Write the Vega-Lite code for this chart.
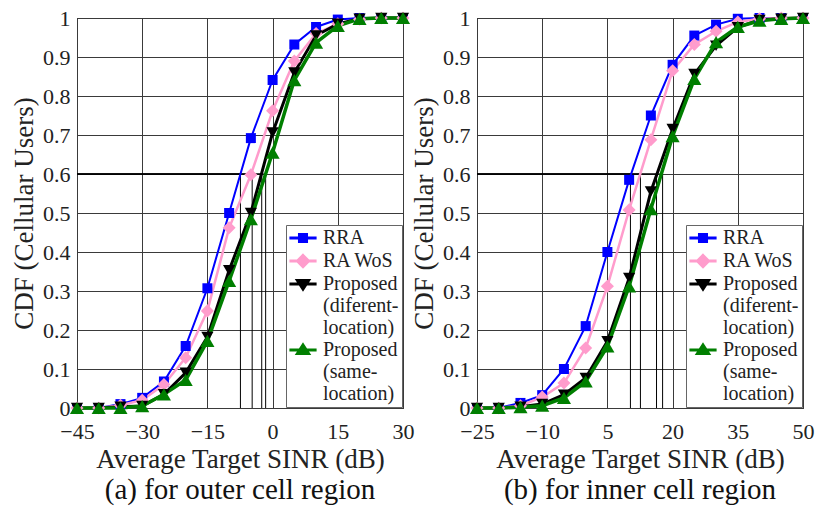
{
  "$schema": "https://vega.github.io/schema/vega-lite/v6.json",
  "background": "white",
  "padding": {"left": 10, "top": 6, "right": 4, "bottom": 0},
  "config": {
    "font": "Liberation Serif, Times New Roman, serif",
    "view": {"stroke": "black", "strokeWidth": 1},
    "axis": {
      "labelFont": "Liberation Serif, Times New Roman, serif",
      "labelFontSize": 22,
      "labelColor": "#222222",
      "labelFlush": false,
      "labelOverlap": false,
      "titleFont": "Liberation Serif, Times New Roman, serif",
      "titleFontSize": 27,
      "titleFontWeight": "normal",
      "titleColor": "#222222",
      "grid": true,
      "gridColor": "#3a3a3a",
      "gridWidth": 1,
      "domain": false,
      "ticks": false
    },
    "axisX": {"labelPadding": 13, "titlePadding": 4},
    "axisY": {"labelPadding": 7, "titlePadding": 4},
    "legend": {
      "orient": "bottom-right",
      "offset": 1,
      "padding": 3,
      "strokeColor": "#666666",
      "fillColor": "white",
      "labelFont": "Liberation Serif, Times New Roman, serif",
      "labelFontSize": 20,
      "labelColor": "#222222",
      "labelOffset": 10,
      "labelLimit": 300,
      "rowPadding": 1,
      "symbolSize": 256,
      "symbolOffset": 4,
      "symbolStrokeWidth": 3,
      "symbolOpacity": 1
    },
    "title": {"font": "Liberation Serif, Times New Roman, serif", "fontSize": 29, "fontWeight": "normal", "color": "#111111"}
  },
  "datasets": {
    "outer": [
      {"series": "RRA", "sinr": -45, "cdf": 0},
      {"series": "RRA", "sinr": -40, "cdf": 0},
      {"series": "RRA", "sinr": -35, "cdf": 0.01},
      {"series": "RRA", "sinr": -30, "cdf": 0.026},
      {"series": "RRA", "sinr": -25, "cdf": 0.068},
      {"series": "RRA", "sinr": -20, "cdf": 0.159},
      {"series": "RRA", "sinr": -15, "cdf": 0.307},
      {"series": "RRA", "sinr": -10, "cdf": 0.5},
      {"series": "RRA", "sinr": -5, "cdf": 0.692},
      {"series": "RRA", "sinr": 0, "cdf": 0.841},
      {"series": "RRA", "sinr": 5, "cdf": 0.932},
      {"series": "RRA", "sinr": 10, "cdf": 0.977},
      {"series": "RRA", "sinr": 15, "cdf": 0.996},
      {"series": "RRA", "sinr": 20, "cdf": 1},
      {"series": "RRA", "sinr": 25, "cdf": 1},
      {"series": "RRA", "sinr": 30, "cdf": 1},
      {"series": "RA WoS", "sinr": -45, "cdf": 0},
      {"series": "RA WoS", "sinr": -40, "cdf": 0},
      {"series": "RA WoS", "sinr": -35, "cdf": 0.007},
      {"series": "RA WoS", "sinr": -30, "cdf": 0.02},
      {"series": "RA WoS", "sinr": -25, "cdf": 0.06},
      {"series": "RA WoS", "sinr": -20, "cdf": 0.129},
      {"series": "RA WoS", "sinr": -15, "cdf": 0.249},
      {"series": "RA WoS", "sinr": -10, "cdf": 0.462},
      {"series": "RA WoS", "sinr": -5, "cdf": 0.598},
      {"series": "RA WoS", "sinr": 0, "cdf": 0.762},
      {"series": "RA WoS", "sinr": 5, "cdf": 0.89},
      {"series": "RA WoS", "sinr": 10, "cdf": 0.96},
      {"series": "RA WoS", "sinr": 15, "cdf": 0.985},
      {"series": "RA WoS", "sinr": 20, "cdf": 0.997},
      {"series": "RA WoS", "sinr": 25, "cdf": 1},
      {"series": "RA WoS", "sinr": 30, "cdf": 1},
      {"series": "Proposed (diferent-location)", "sinr": -45, "cdf": 0},
      {"series": "Proposed (diferent-location)", "sinr": -40, "cdf": 0},
      {"series": "Proposed (diferent-location)", "sinr": -35, "cdf": 0.003},
      {"series": "Proposed (diferent-location)", "sinr": -30, "cdf": 0.005},
      {"series": "Proposed (diferent-location)", "sinr": -25, "cdf": 0.035},
      {"series": "Proposed (diferent-location)", "sinr": -20, "cdf": 0.09},
      {"series": "Proposed (diferent-location)", "sinr": -15, "cdf": 0.182},
      {"series": "Proposed (diferent-location)", "sinr": -10, "cdf": 0.353},
      {"series": "Proposed (diferent-location)", "sinr": -5, "cdf": 0.5},
      {"series": "Proposed (diferent-location)", "sinr": 0, "cdf": 0.706},
      {"series": "Proposed (diferent-location)", "sinr": 5, "cdf": 0.86},
      {"series": "Proposed (diferent-location)", "sinr": 10, "cdf": 0.955},
      {"series": "Proposed (diferent-location)", "sinr": 15, "cdf": 0.985},
      {"series": "Proposed (diferent-location)", "sinr": 20, "cdf": 0.998},
      {"series": "Proposed (diferent-location)", "sinr": 25, "cdf": 1},
      {"series": "Proposed (diferent-location)", "sinr": 30, "cdf": 1},
      {"series": "Proposed (same-location)", "sinr": -45, "cdf": 0},
      {"series": "Proposed (same-location)", "sinr": -40, "cdf": 0},
      {"series": "Proposed (same-location)", "sinr": -35, "cdf": 0},
      {"series": "Proposed (same-location)", "sinr": -30, "cdf": 0.005},
      {"series": "Proposed (same-location)", "sinr": -25, "cdf": 0.035},
      {"series": "Proposed (same-location)", "sinr": -20, "cdf": 0.072},
      {"series": "Proposed (same-location)", "sinr": -15, "cdf": 0.172},
      {"series": "Proposed (same-location)", "sinr": -10, "cdf": 0.326},
      {"series": "Proposed (same-location)", "sinr": -5, "cdf": 0.484},
      {"series": "Proposed (same-location)", "sinr": 0, "cdf": 0.655},
      {"series": "Proposed (same-location)", "sinr": 5, "cdf": 0.841},
      {"series": "Proposed (same-location)", "sinr": 10, "cdf": 0.937},
      {"series": "Proposed (same-location)", "sinr": 15, "cdf": 0.98},
      {"series": "Proposed (same-location)", "sinr": 20, "cdf": 0.998},
      {"series": "Proposed (same-location)", "sinr": 25, "cdf": 1},
      {"series": "Proposed (same-location)", "sinr": 30, "cdf": 1}
    ],
    "inner": [
      {"series": "RRA", "sinr": -25, "cdf": 0},
      {"series": "RRA", "sinr": -20, "cdf": 0},
      {"series": "RRA", "sinr": -15, "cdf": 0.013},
      {"series": "RRA", "sinr": -10, "cdf": 0.033},
      {"series": "RRA", "sinr": -5, "cdf": 0.1},
      {"series": "RRA", "sinr": 0, "cdf": 0.21},
      {"series": "RRA", "sinr": 5, "cdf": 0.4},
      {"series": "RRA", "sinr": 10, "cdf": 0.585},
      {"series": "RRA", "sinr": 15, "cdf": 0.75},
      {"series": "RRA", "sinr": 20, "cdf": 0.88},
      {"series": "RRA", "sinr": 25, "cdf": 0.955},
      {"series": "RRA", "sinr": 30, "cdf": 0.983},
      {"series": "RRA", "sinr": 35, "cdf": 0.998},
      {"series": "RRA", "sinr": 40, "cdf": 1},
      {"series": "RRA", "sinr": 45, "cdf": 1},
      {"series": "RRA", "sinr": 50, "cdf": 1},
      {"series": "RA WoS", "sinr": -25, "cdf": 0},
      {"series": "RA WoS", "sinr": -20, "cdf": 0},
      {"series": "RA WoS", "sinr": -15, "cdf": 0.006},
      {"series": "RA WoS", "sinr": -10, "cdf": 0.028},
      {"series": "RA WoS", "sinr": -5, "cdf": 0.064},
      {"series": "RA WoS", "sinr": 0, "cdf": 0.154},
      {"series": "RA WoS", "sinr": 5, "cdf": 0.312},
      {"series": "RA WoS", "sinr": 10, "cdf": 0.508},
      {"series": "RA WoS", "sinr": 15, "cdf": 0.688},
      {"series": "RA WoS", "sinr": 20, "cdf": 0.865},
      {"series": "RA WoS", "sinr": 25, "cdf": 0.932},
      {"series": "RA WoS", "sinr": 30, "cdf": 0.966},
      {"series": "RA WoS", "sinr": 35, "cdf": 0.99},
      {"series": "RA WoS", "sinr": 40, "cdf": 0.998},
      {"series": "RA WoS", "sinr": 45, "cdf": 1},
      {"series": "RA WoS", "sinr": 50, "cdf": 1},
      {"series": "Proposed (diferent-location)", "sinr": -25, "cdf": 0},
      {"series": "Proposed (diferent-location)", "sinr": -20, "cdf": 0},
      {"series": "Proposed (diferent-location)", "sinr": -15, "cdf": 0.003},
      {"series": "Proposed (diferent-location)", "sinr": -10, "cdf": 0.01},
      {"series": "Proposed (diferent-location)", "sinr": -5, "cdf": 0.034},
      {"series": "Proposed (diferent-location)", "sinr": 0, "cdf": 0.077},
      {"series": "Proposed (diferent-location)", "sinr": 5, "cdf": 0.171},
      {"series": "Proposed (diferent-location)", "sinr": 10, "cdf": 0.333},
      {"series": "Proposed (diferent-location)", "sinr": 15, "cdf": 0.555},
      {"series": "Proposed (diferent-location)", "sinr": 20, "cdf": 0.715},
      {"series": "Proposed (diferent-location)", "sinr": 25, "cdf": 0.856},
      {"series": "Proposed (diferent-location)", "sinr": 30, "cdf": 0.929},
      {"series": "Proposed (diferent-location)", "sinr": 35, "cdf": 0.976},
      {"series": "Proposed (diferent-location)", "sinr": 40, "cdf": 0.995},
      {"series": "Proposed (diferent-location)", "sinr": 45, "cdf": 0.998},
      {"series": "Proposed (diferent-location)", "sinr": 50, "cdf": 1},
      {"series": "Proposed (same-location)", "sinr": -25, "cdf": 0},
      {"series": "Proposed (same-location)", "sinr": -20, "cdf": 0},
      {"series": "Proposed (same-location)", "sinr": -15, "cdf": 0.002},
      {"series": "Proposed (same-location)", "sinr": -10, "cdf": 0.006},
      {"series": "Proposed (same-location)", "sinr": -5, "cdf": 0.026},
      {"series": "Proposed (same-location)", "sinr": 0, "cdf": 0.068},
      {"series": "Proposed (same-location)", "sinr": 5, "cdf": 0.158},
      {"series": "Proposed (same-location)", "sinr": 10, "cdf": 0.312},
      {"series": "Proposed (same-location)", "sinr": 15, "cdf": 0.51},
      {"series": "Proposed (same-location)", "sinr": 20, "cdf": 0.697},
      {"series": "Proposed (same-location)", "sinr": 25, "cdf": 0.844},
      {"series": "Proposed (same-location)", "sinr": 30, "cdf": 0.938},
      {"series": "Proposed (same-location)", "sinr": 35, "cdf": 0.977},
      {"series": "Proposed (same-location)", "sinr": 40, "cdf": 0.993},
      {"series": "Proposed (same-location)", "sinr": 45, "cdf": 0.998},
      {"series": "Proposed (same-location)", "sinr": 50, "cdf": 1}
    ],
    "outerCross": [
      {"series": "RRA", "sinr": -7.4, "cdf": 0.6},
      {"series": "RA WoS", "sinr": -4.7, "cdf": 0.6},
      {"series": "Proposed (diferent-location)", "sinr": -2.5, "cdf": 0.6},
      {"series": "Proposed (same-location)", "sinr": -1.6, "cdf": 0.6}
    ],
    "innerCross": [
      {"series": "RRA", "sinr": 10.3, "cdf": 0.6},
      {"series": "RA WoS", "sinr": 12.6, "cdf": 0.6},
      {"series": "Proposed (diferent-location)", "sinr": 16.3, "cdf": 0.6},
      {"series": "Proposed (same-location)", "sinr": 17.7, "cdf": 0.6}
    ]
  },
  "spacing": 74,
  "bounds": "flush",
  "resolve": {
    "scale": {"fill": "independent", "stroke": "independent", "shape": "independent", "color": "independent", "strokeWidth": "independent"},
    "legend": {"fill": "independent", "stroke": "independent", "shape": "independent"}
  },
  "hconcat": [
    {
      "width": 326,
      "height": 390,
      "title": {"text": "(a) for outer cell region", "orient": "bottom", "frame": "group", "anchor": "middle", "offset": 4},
      "data": {"name": "outer"},
      "encoding": {
        "x": {"field": "sinr", "type": "quantitative", "scale": {"domain": [-45, 30], "nice": false, "zero": false}, "axis": {"values": [-45, -30, -15, 0, 15, 30], "title": "Average Target SINR (dB)"}},
        "y": {"field": "cdf", "type": "quantitative", "scale": {"domain": [0, 1], "nice": false, "zero": false}, "axis": {"values": [0, 0.1, 0.2, 0.3, 0.4, 0.5, 0.6, 0.7, 0.8, 0.9, 1], "format": "~g", "title": "CDF (Cellular Users)"}}
      },
      "layer": [
        {"data": {"name": "outerCross"}, "mark": {"type": "rule", "color": "black", "strokeWidth": 1}, "encoding": {"x": {"datum": -45, "type": "quantitative"}, "x2": {"field": "sinr"}}},
        {"data": {"name": "outerCross"}, "mark": {"type": "rule", "color": "black", "strokeWidth": 1}, "encoding": {"y": {"datum": 0, "type": "quantitative"}, "y2": {"field": "cdf"}}},
        {
          "mark": {"type": "line"},
          "encoding": {
            "color": {"field": "series", "type": "nominal", "scale": {"domain": ["Proposed (same-location)", "Proposed (diferent-location)", "RA WoS", "RRA"], "range": ["#007f00", "#000000", "#ff9ccc", "#0000ff"]}, "legend": null},
            "strokeWidth": {"field": "series", "type": "nominal", "scale": {"domain": ["Proposed (same-location)", "Proposed (diferent-location)", "RA WoS", "RRA"], "range": [3.5, 2, 3, 3]}, "legend": null}
          }
        },
        {"transform": [{"filter": "datum.series === 'RRA'"}], "mark": {"type": "point", "shape": "square", "filled": true, "opacity": 1, "size": 100, "strokeWidth": 1}, "encoding": {"color": {"field": "series", "type": "nominal", "legend": null}}},
        {"transform": [{"filter": "datum.series === 'RA WoS'"}], "mark": {"type": "point", "shape": "diamond", "filled": true, "opacity": 1, "size": 170, "strokeWidth": 1}, "encoding": {"color": {"field": "series", "type": "nominal", "legend": null}}},
        {"transform": [{"filter": "datum.series === 'Proposed (diferent-location)'"}], "mark": {"type": "point", "shape": "triangle-down", "filled": true, "opacity": 1, "size": 150, "strokeWidth": 1}, "encoding": {"color": {"field": "series", "type": "nominal", "legend": null}}},
        {"transform": [{"filter": "datum.series === 'Proposed (same-location)'"}], "mark": {"type": "point", "shape": "triangle-up", "filled": true, "opacity": 1, "size": 200, "strokeWidth": 1}, "encoding": {"color": {"field": "series", "type": "nominal", "legend": null}}},
        {
          "mark": {"type": "point", "opacity": 0, "strokeWidth": 3},
          "encoding": {
            "fill": {"field": "series", "type": "nominal", "scale": {"domain": ["RRA", "RA WoS", "Proposed (diferent-location)", "Proposed (same-location)"], "range": ["#0000ff", "#ff9ccc", "#000000", "#007f00"]}, "legend": {"title": null, "labelExpr": "datum.label == 'Proposed (diferent-location)' ? ['Proposed', '(diferent-', 'location)'] : datum.label == 'Proposed (same-location)' ? ['Proposed', '(same-', 'location)'] : datum.label", "encode": {"labels": {"update": {"lineHeight": {"value": 22}}}, "symbols": {"update": {"strokeWidth": {"value": 3}}}}}},
            "stroke": {"field": "series", "type": "nominal", "scale": {"domain": ["RRA", "RA WoS", "Proposed (diferent-location)", "Proposed (same-location)"], "range": ["#0000ff", "#ff9ccc", "#000000", "#007f00"]}, "legend": {"title": null, "labelExpr": "datum.label == 'Proposed (diferent-location)' ? ['Proposed', '(diferent-', 'location)'] : datum.label == 'Proposed (same-location)' ? ['Proposed', '(same-', 'location)'] : datum.label", "encode": {"labels": {"update": {"lineHeight": {"value": 22}}}, "symbols": {"update": {"strokeWidth": {"value": 3}}}}}},
            "shape": {"field": "series", "type": "nominal", "scale": {"domain": ["RRA", "RA WoS", "Proposed (diferent-location)", "Proposed (same-location)"], "range": ["M-1.7,0H1.7M-0.44,-0.44H0.44V0.44H-0.44Z", "M-1.7,0H1.7M0,-0.69L0.69,0L0,0.69L-0.69,0Z", "M-1.7,0H1.7M-0.69,-0.45L0.69,-0.45L0,0.62Z", "M-1.7,0H1.7M0,-0.62L0.69,0.45L-0.69,0.45Z"]}, "legend": {"title": null, "labelExpr": "datum.label == 'Proposed (diferent-location)' ? ['Proposed', '(diferent-', 'location)'] : datum.label == 'Proposed (same-location)' ? ['Proposed', '(same-', 'location)'] : datum.label", "encode": {"labels": {"update": {"lineHeight": {"value": 22}}}, "symbols": {"update": {"strokeWidth": {"value": 3}}}}}}
          }
        }
      ]
    },
    {
      "width": 326,
      "height": 390,
      "title": {"text": "(b) for inner cell region", "orient": "bottom", "frame": "group", "anchor": "middle", "offset": 4},
      "data": {"name": "inner"},
      "encoding": {
        "x": {"field": "sinr", "type": "quantitative", "scale": {"domain": [-25, 50], "nice": false, "zero": false}, "axis": {"values": [-25, -10, 5, 20, 35, 50], "title": "Average Target SINR (dB)"}},
        "y": {"field": "cdf", "type": "quantitative", "scale": {"domain": [0, 1], "nice": false, "zero": false}, "axis": {"values": [0, 0.1, 0.2, 0.3, 0.4, 0.5, 0.6, 0.7, 0.8, 0.9, 1], "format": "~g", "title": "CDF (Cellular Users)"}}
      },
      "layer": [
        {"data": {"name": "innerCross"}, "mark": {"type": "rule", "color": "black", "strokeWidth": 1}, "encoding": {"x": {"datum": -25, "type": "quantitative"}, "x2": {"field": "sinr"}}},
        {"data": {"name": "innerCross"}, "mark": {"type": "rule", "color": "black", "strokeWidth": 1}, "encoding": {"y": {"datum": 0, "type": "quantitative"}, "y2": {"field": "cdf"}}},
        {
          "mark": {"type": "line"},
          "encoding": {
            "color": {"field": "series", "type": "nominal", "scale": {"domain": ["Proposed (same-location)", "Proposed (diferent-location)", "RA WoS", "RRA"], "range": ["#007f00", "#000000", "#ff9ccc", "#0000ff"]}, "legend": null},
            "strokeWidth": {"field": "series", "type": "nominal", "scale": {"domain": ["Proposed (same-location)", "Proposed (diferent-location)", "RA WoS", "RRA"], "range": [3.5, 2, 3, 3]}, "legend": null}
          }
        },
        {"transform": [{"filter": "datum.series === 'RRA'"}], "mark": {"type": "point", "shape": "square", "filled": true, "opacity": 1, "size": 100, "strokeWidth": 1}, "encoding": {"color": {"field": "series", "type": "nominal", "legend": null}}},
        {"transform": [{"filter": "datum.series === 'RA WoS'"}], "mark": {"type": "point", "shape": "diamond", "filled": true, "opacity": 1, "size": 170, "strokeWidth": 1}, "encoding": {"color": {"field": "series", "type": "nominal", "legend": null}}},
        {"transform": [{"filter": "datum.series === 'Proposed (diferent-location)'"}], "mark": {"type": "point", "shape": "triangle-down", "filled": true, "opacity": 1, "size": 150, "strokeWidth": 1}, "encoding": {"color": {"field": "series", "type": "nominal", "legend": null}}},
        {"transform": [{"filter": "datum.series === 'Proposed (same-location)'"}], "mark": {"type": "point", "shape": "triangle-up", "filled": true, "opacity": 1, "size": 200, "strokeWidth": 1}, "encoding": {"color": {"field": "series", "type": "nominal", "legend": null}}},
        {
          "mark": {"type": "point", "opacity": 0, "strokeWidth": 3},
          "encoding": {
            "fill": {"field": "series", "type": "nominal", "scale": {"domain": ["RRA", "RA WoS", "Proposed (diferent-location)", "Proposed (same-location)"], "range": ["#0000ff", "#ff9ccc", "#000000", "#007f00"]}, "legend": {"title": null, "labelExpr": "datum.label == 'Proposed (diferent-location)' ? ['Proposed', '(diferent-', 'location)'] : datum.label == 'Proposed (same-location)' ? ['Proposed', '(same-', 'location)'] : datum.label", "encode": {"labels": {"update": {"lineHeight": {"value": 22}}}, "symbols": {"update": {"strokeWidth": {"value": 3}}}}}},
            "stroke": {"field": "series", "type": "nominal", "scale": {"domain": ["RRA", "RA WoS", "Proposed (diferent-location)", "Proposed (same-location)"], "range": ["#0000ff", "#ff9ccc", "#000000", "#007f00"]}, "legend": {"title": null, "labelExpr": "datum.label == 'Proposed (diferent-location)' ? ['Proposed', '(diferent-', 'location)'] : datum.label == 'Proposed (same-location)' ? ['Proposed', '(same-', 'location)'] : datum.label", "encode": {"labels": {"update": {"lineHeight": {"value": 22}}}, "symbols": {"update": {"strokeWidth": {"value": 3}}}}}},
            "shape": {"field": "series", "type": "nominal", "scale": {"domain": ["RRA", "RA WoS", "Proposed (diferent-location)", "Proposed (same-location)"], "range": ["M-1.7,0H1.7M-0.44,-0.44H0.44V0.44H-0.44Z", "M-1.7,0H1.7M0,-0.69L0.69,0L0,0.69L-0.69,0Z", "M-1.7,0H1.7M-0.69,-0.45L0.69,-0.45L0,0.62Z", "M-1.7,0H1.7M0,-0.62L0.69,0.45L-0.69,0.45Z"]}, "legend": {"title": null, "labelExpr": "datum.label == 'Proposed (diferent-location)' ? ['Proposed', '(diferent-', 'location)'] : datum.label == 'Proposed (same-location)' ? ['Proposed', '(same-', 'location)'] : datum.label", "encode": {"labels": {"update": {"lineHeight": {"value": 22}}}, "symbols": {"update": {"strokeWidth": {"value": 3}}}}}}
          }
        }
      ]
    }
  ]
}
